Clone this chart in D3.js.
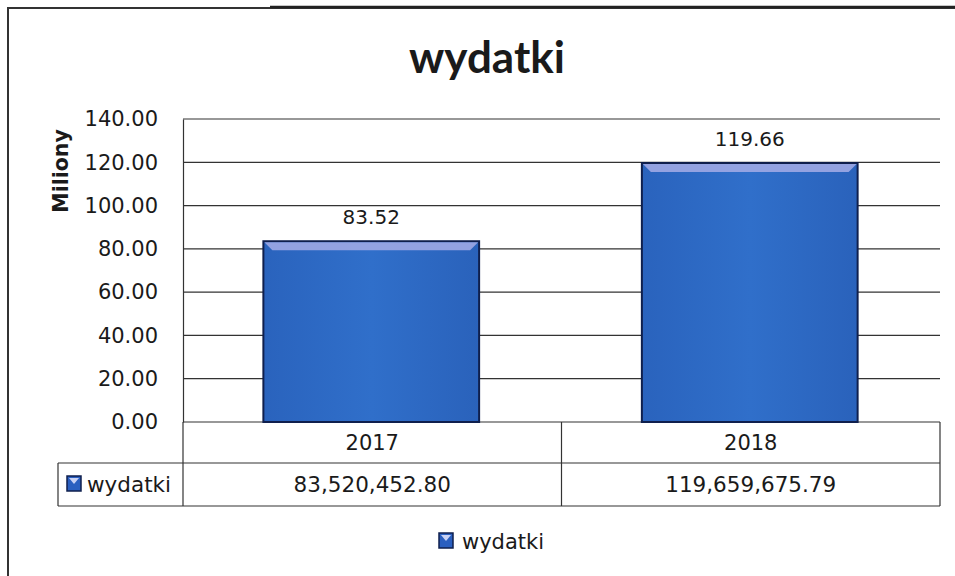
<!DOCTYPE html>
<html>
<head>
<meta charset="utf-8">
<script src="https://cdn.jsdelivr.net/npm/d3@7"></script>
<style>
  body { margin: 0; background: #fff; }
  text { font-family: "DejaVu Sans", sans-serif; fill: #1a1a1a; }
</style>
</head>
<body>
<div class="canva"></div>
<script>
const years = ['2017', '2018']
const values = [83520452.80, 119659675.79]
const seriesName = 'wydatki'
const yTicks = [0, 20, 40, 60, 80, 100, 120, 140]

const width = 955, height = 576
const svg = d3.select('.canva').append('svg')
              .attr('width', width)
              .attr('height', height)

const plot = { left: 183, right: 940, top: 119, bottom: 422 }
const rowH = [41, 43]

const y = d3.scaleLinear().domain([0, 140]).range([plot.bottom, plot.top])
const x = d3.scaleBand().domain(years).range([plot.left, plot.right]).padding(0)

const defs = svg.append('defs')
const grad = defs.append('linearGradient').attr('id', 'barFill')
                 .attr('x1', 0).attr('x2', 1).attr('y1', 0).attr('y2', 0)
grad.append('stop').attr('offset', '0%').attr('stop-color', '#2a63bd')
grad.append('stop').attr('offset', '50%').attr('stop-color', '#306fca')
grad.append('stop').attr('offset', '100%').attr('stop-color', '#2a62bb')

// outer frame
svg.append('path')
   .attr('d', `M8,${height} V8 H${width}`)
   .attr('fill', 'none').attr('stroke', '#333').attr('stroke-width', 2)
svg.append('line')
   .attr('x1', 270).attr('x2', width).attr('y1', 7).attr('y2', 7)
   .attr('stroke', '#222').attr('stroke-width', 2.5)

// title
svg.append('text')
   .attr('x', 487).attr('y', 73)
   .attr('text-anchor', 'middle')
   .attr('font-size', 44).attr('font-weight', 'bold')
   .style('font-family', 'Lato, sans-serif')
   .text('wydatki')

// grid lines
svg.append('g').selectAll('line')
   .data(yTicks)
   .enter().append('line')
   .attr('x1', plot.left).attr('x2', plot.right)
   .attr('y1', d => y(d)).attr('y2', d => y(d))
   .attr('stroke', '#333').attr('stroke-width', 1.2)

// y axis
const yAxis = svg.append('g')
   .attr('transform', `translate(${plot.left},0)`)
   .call(d3.axisLeft(y).tickValues(yTicks).tickSize(0).tickPadding(25).tickFormat(d3.format('.2f')))
yAxis.select('.domain').attr('stroke', '#333').attr('stroke-width', 1.2)
yAxis.selectAll('text').attr('font-size', 21).attr('fill', '#1a1a1a')
     .style('font-family', '"DejaVu Sans", sans-serif')

svg.append('text')
   .attr('transform', 'translate(68,171) rotate(-90)')
   .attr('text-anchor', 'middle')
   .attr('font-size', 20.5).attr('font-weight', 'bold')
   .text('Miliony')

// bars
const barW = x.bandwidth() * 0.57
const bars = svg.append('g').selectAll('g')
   .data(values)
   .enter().append('g')
   .attr('transform', (d, i) => `translate(${x(years[i]) + (x.bandwidth() - barW) / 2 - 1},0)`)

bars.append('rect')
    .attr('x', 0).attr('width', barW)
    .attr('y', d => y(d / 1e6))
    .attr('height', d => plot.bottom - y(d / 1e6))
    .attr('fill', 'url(#barFill)')
    .attr('stroke', '#0f1f4d').attr('stroke-width', 2)

bars.append('path')
    .attr('d', d => {
      const t = y(d / 1e6) + 1
      return `M1,${t} H${barW - 1} L${barW - 9},${t + 8} H9 Z`
    })
    .attr('fill', '#9fa9e4').attr('opacity', 0.9)

bars.append('text')
    .attr('x', barW / 2)
    .attr('y', d => y(d / 1e6) - 17)
    .attr('text-anchor', 'middle')
    .attr('font-size', 20).attr('fill', '#333')
    .text(d => d3.format('.2f')(d / 1e6))

// data table
const tbl = svg.append('g').attr('stroke', '#333').attr('stroke-width', 1.2)
const r1 = plot.bottom + rowH[0], r2 = r1 + rowH[1]
tbl.append('line').attr('x1', 58).attr('x2', plot.right).attr('y1', r1).attr('y2', r1)
tbl.append('line').attr('x1', 58).attr('x2', plot.right).attr('y1', r2).attr('y2', r2)
tbl.append('line').attr('x1', 58).attr('x2', 58).attr('y1', r1).attr('y2', r2)
tbl.selectAll('.v')
   .data([plot.left, ...years.map(c => x(c) + x.bandwidth())])
   .enter().append('line')
   .attr('x1', d => d).attr('x2', d => d)
   .attr('y1', plot.bottom).attr('y2', r2)

svg.append('g').selectAll('text')
   .data(years)
   .enter().append('text')
   .attr('x', d => x(d) + x.bandwidth() / 2)
   .attr('y', plot.bottom + 28)
   .attr('text-anchor', 'middle')
   .attr('font-size', 21)
   .text(d => d)

svg.append('g').selectAll('text')
   .data(values)
   .enter().append('text')
   .attr('x', (d, i) => x(years[i]) + x.bandwidth() / 2)
   .attr('y', r1 + 29)
   .attr('text-anchor', 'middle')
   .attr('font-size', 21.5)
   .text(d => d3.format(',.2f')(d))

function legendKey(g, kx, ky) {
  g.append('rect').attr('x', kx).attr('y', ky).attr('width', 14).attr('height', 15)
   .attr('fill', '#2a5fc0').attr('stroke', '#0f1f4d').attr('stroke-width', 1.5)
  g.append('path').attr('d', `M${kx + 2},${ky + 2} H${kx + 12} L${kx + 7},${ky + 8} Z`)
   .attr('fill', '#c9d2f5')
}

const tk = svg.append('g')
legendKey(tk, 67, r1 + 13)
tk.append('text').attr('x', 87).attr('y', r1 + 29).attr('font-size', 21.5).text(seriesName)

// legend
const lg = svg.append('g')
legendKey(lg, 439, 533)
lg.append('text').attr('x', 462).attr('y', 549).attr('font-size', 21).text(seriesName)
</script>
</body>
</html>
